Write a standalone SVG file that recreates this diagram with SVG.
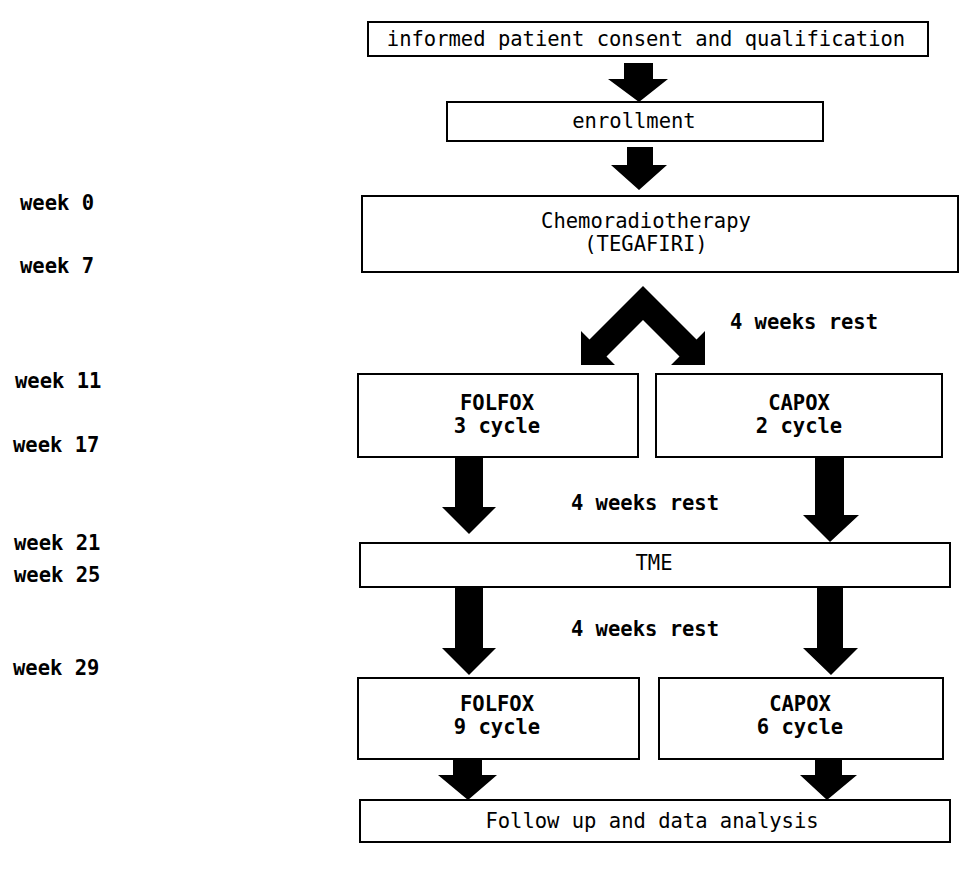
<svg xmlns="http://www.w3.org/2000/svg" width="974" height="872" viewBox="0 0 974 872">
<style>
.box{fill:#fff;stroke:#000;stroke-width:2}
.t{font-family:"DejaVu Sans Mono","Liberation Mono",monospace;font-size:20.5px;fill:#000;text-anchor:middle}
.b{font-weight:bold}
.w{font-family:"DejaVu Sans Mono","Liberation Mono",monospace;font-size:20.5px;font-weight:bold;fill:#000}
.arr{fill:#000;stroke:none}
</style>
<rect width="974" height="872" fill="#fff"/>
<g id="week-labels">
<text class="w" x="20" y="210">week 0</text>
<text class="w" x="20" y="273">week 7</text>
<text class="w" x="15" y="388">week 11</text>
<text class="w" x="13" y="452">week 17</text>
<text class="w" x="14" y="550">week 21</text>
<text class="w" x="14" y="582">week 25</text>
<text class="w" x="13" y="675">week 29</text>
</g>
<g id="connectors">
<polygon class="arr" points="624,63 653,63 653,79 668,79 639,102 608,79 624,79"/>
<polygon class="arr" points="627,147 653,147 653,165 667,165 639,190 611,165 627,165"/>
<polygon class="arr" points="643,286 696.5,339.5 705,331 705,365 671,365 679.5,356.5 643,320 606.5,356.5 615,365 581,365 581,331 589.5,339.5"/>
<polygon class="arr" points="455,457 483,457 483,507 496,507 469,534 442,507 455,507"/>
<polygon class="arr" points="815,457 844,457 844,515 859,515 830,542 803,515 815,515"/>
<polygon class="arr" points="455,587 483,587 483,648 496,648 469,675 442,648 455,648"/>
<polygon class="arr" points="817,587 843,587 843,648 858,648 831,675 803,648 817,648"/>
<polygon class="arr" points="453,759 482,759 482,775 497,775 468,800 438,775 453,775"/>
<polygon class="arr" points="815,759 842,759 842,775 857,775 827,800 800,775 815,775"/>
</g>
<g id="rest-labels">
<text class="t b" x="804" y="329">4 weeks rest</text>
<text class="t b" x="645" y="510">4 weeks rest</text>
<text class="t b" x="645" y="636">4 weeks rest</text>
</g>
<g id="consent">
<rect class="box" x="368" y="22" width="560" height="34"/>
<text class="t" x="646" y="46">informed patient consent and qualification</text>
</g>
<g id="enrollment">
<rect class="box" x="447" y="102" width="376" height="39"/>
<text class="t" x="634" y="128">enrollment</text>
</g>
<g id="chemoradiotherapy">
<rect class="box" x="362" y="196" width="596" height="76"/>
<text class="t" x="646" y="228">Chemoradiotherapy</text>
<text class="t" x="646" y="251">(TEGAFIRI)</text>
</g>
<g id="folfox3">
<rect class="box" x="358" y="374" width="280" height="83"/>
<text class="t b" x="497" y="410">FOLFOX</text>
<text class="t b" x="497" y="433">3 cycle</text>
</g>
<g id="capox2">
<rect class="box" x="656" y="374" width="286" height="83"/>
<text class="t b" x="799" y="410">CAPOX</text>
<text class="t b" x="799" y="433">2 cycle</text>
</g>
<g id="tme">
<rect class="box" x="360" y="543" width="590" height="44"/>
<text class="t" x="654" y="570">TME</text>
</g>
<g id="folfox9">
<rect class="box" x="358" y="678" width="281" height="81"/>
<text class="t b" x="497" y="711">FOLFOX</text>
<text class="t b" x="497" y="734">9 cycle</text>
</g>
<g id="capox6">
<rect class="box" x="659" y="678" width="284" height="81"/>
<text class="t b" x="800" y="711">CAPOX</text>
<text class="t b" x="800" y="734">6 cycle</text>
</g>
<g id="followup">
<rect class="box" x="360" y="800" width="590" height="42"/>
<text class="t" x="652" y="828">Follow up and data analysis</text>
</g>
</svg>
